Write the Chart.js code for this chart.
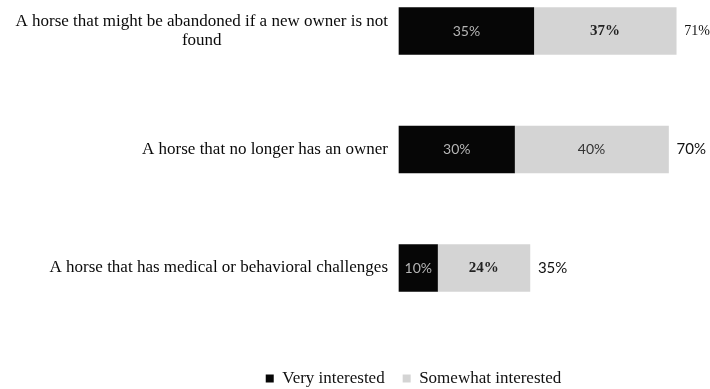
<!DOCTYPE html>
<html>
<head>
<meta charset="utf-8">
<script src="https://cdn.jsdelivr.net/npm/chart.js@4.4.1/dist/chart.umd.min.js"></script>
<style>
  html, body { margin: 0; padding: 0; background: #fff; }
  #wrap { width: 710px; height: 389px; position: relative; }
</style>
</head>
<body>
<div id="wrap"><canvas id="chart_horses"></canvas></div>
<script>
// categories (first one wraps to two lines)
const categories = [
    ["A horse that might be abandoned if a new owner is not", "found"],
    ["A horse that no longer has an owner"],
    ["A horse that has medical or behavioral challenges"],
];
const veryInterested = [35, 30, 10];
const somewhatInterested = [37, 40, 24];
const totalInterested = [71, 70, 35];
const pctSuffix = "%";

const SERIF = "'Liberation Serif', 'Times New Roman', serif";
const SANS = "Lato, 'Open Sans', sans-serif";

// label styles per bar: [inside black, inside grey, total]
const labelStyle = [
    [{ f: "14px " + SANS, c: "#b5b5b5" }, { f: "bold 15px " + SERIF, c: "#222" }, { f: "14px " + SERIF, c: "#111" }],
    [{ f: "14px " + SANS, c: "#b5b5b5" }, { f: "14px " + SANS, c: "#333" }, { f: "15px " + SANS, c: "#111" }],
    [{ f: "14px " + SANS, c: "#b5b5b5" }, { f: "bold 15px " + SERIF, c: "#222" }, { f: "15px " + SANS, c: "#111" }],
];

// draws category names to the left of the bars, multi-line names centred on their widest line
const categoryLabels = {
    id: "categoryLabels",
    afterDraw(chart) {
        const { ctx, chartArea, scales } = chart;
        const right = chartArea.left - 11;
        ctx.save();
        ctx.font = "17px " + SERIF;
        ctx.fillStyle = "#0a0a0a";
        ctx.textBaseline = "middle";
        ctx.textAlign = "center";
        categories.forEach((lines, i) => {
            const y = scales.y.getPixelForValue(i);
            const maxW = Math.max(...lines.map((l) => ctx.measureText(l).width));
            const cx = right - maxW / 2;
            const lh = 19;
            const y0 = y - ((lines.length - 1) * lh) / 2;
            lines.forEach((l, j) => ctx.fillText(l, cx, y0 + j * lh));
        });
        ctx.restore();
    },
};

// value labels inside the segments and totals after the stack
const valueLabels = {
    id: "valueLabels",
    afterDatasetsDraw(chart) {
        const { ctx, scales } = chart;
        ctx.save();
        ctx.textBaseline = "middle";
        chart.data.datasets.forEach((ds, di) => {
            chart.getDatasetMeta(di).data.forEach((bar, i) => {
                const st = labelStyle[i][di];
                ctx.font = st.f;
                ctx.fillStyle = st.c;
                ctx.textAlign = "center";
                ctx.fillText(ds.data[i] + pctSuffix, (bar.x + bar.base) / 2, bar.y);
            });
        });
        totalInterested.forEach((t, i) => {
            const st = labelStyle[i][2];
            const end = scales.x.getPixelForValue(veryInterested[i] + somewhatInterested[i]);
            ctx.font = st.f;
            ctx.fillStyle = st.c;
            ctx.textAlign = "left";
            ctx.fillText(t + pctSuffix, end + 8, scales.y.getPixelForValue(i));
        });
        ctx.restore();
    },
};

// nudge the legend under the bars
const legendShift = {
    id: "legendShift",
    afterLayout(chart) {
        const lg = chart.legend;
        const dx = 60, dy = 8;
        lg.left += dx; lg.right += dx;
        lg.top += dy; lg.bottom += dy;
    },
};

const ctx = document.getElementById("chart_horses").getContext("2d");
const chart_horses = new Chart(ctx, {
    type: "bar",
    data: {
        labels: categories,
        datasets: [
            {
                label: "Very interested",
                data: veryInterested,
                backgroundColor: "#060606",
                barThickness: 47,
                clip: false,
            },
            {
                label: "Somewhat interested",
                data: somewhatInterested,
                backgroundColor: "#d4d4d4",
                barThickness: 47,
                clip: false,
            },
        ],
    },
    options: {
        indexAxis: "y",
        responsive: true,
        maintainAspectRatio: false,
        animation: false,
        layout: { padding: { top: 31, right: 3, left: 0, bottom: 0 } },
        plugins: {
            tooltip: { enabled: false },
            legend: {
                position: "bottom",
                labels: {
                    boxWidth: 8,
                    boxHeight: 8,
                    padding: 18,
                    color: "#111",
                    font: { family: SERIF, size: 17 },
                },
            },
        },
        scales: {
            x: {
                stacked: true,
                min: 0,
                max: 80,
                grid: { display: false },
                border: { display: false },
                ticks: { display: false },
                afterFit: (scale) => { scale.height = 76; },
            },
            y: {
                stacked: true,
                offset: false,
                grid: { display: false },
                border: { display: false },
                ticks: { display: false },
                afterFit: (scale) => { scale.width = 399; },
            },
        },
    },
    plugins: [categoryLabels, valueLabels, legendShift],
});
</script>
</body>
</html>
